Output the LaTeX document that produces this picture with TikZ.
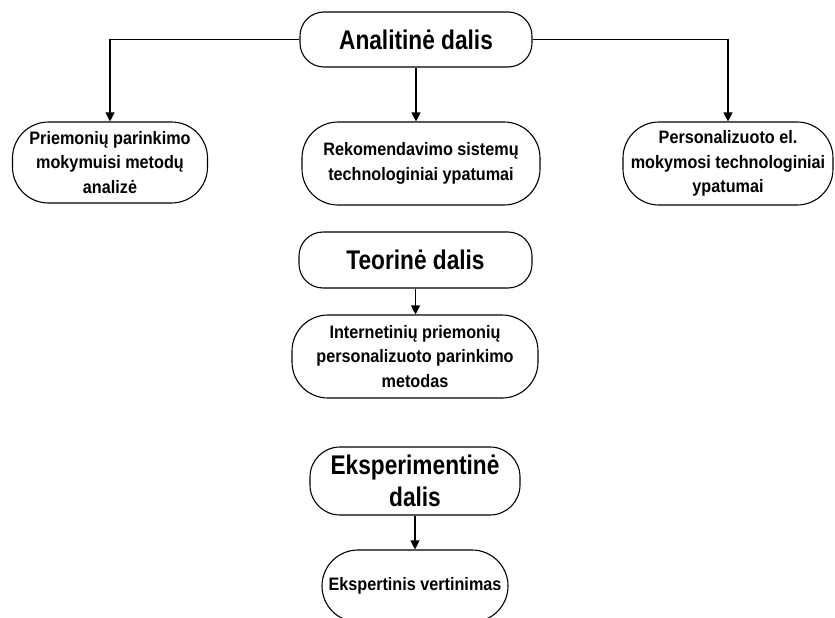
\documentclass[tikz,border=0pt]{standalone}
\usepackage{fontspec}
\setmainfont{Liberation Sans}
\newfontfamily\partfont[FakeStretch=0.84]{Liberation Sans}
\newfontfamily\topicfont[FakeStretch=0.9]{Liberation Sans}
\usetikzlibrary{arrows.meta,positioning}

\begin{document}
\begin{tikzpicture}[x=1pt,y=-1pt,line width=1.1pt,
  part/.style={draw,rounded corners=24pt,align=center,inner sep=0pt,
    font=\partfont\fontsize{27}{32}\selectfont\bfseries},
  topic/.style={draw,rounded corners=36pt,align=center,inner sep=0pt,
    font=\topicfont\fontsize{18}{24.5}\selectfont\bfseries},
  arr/.style={-{Triangle[width=9pt,length=9pt]}}]
 \clip (0,0) rectangle (835,618);
 \node[part,minimum width=232pt,minimum height=55pt] (ana) at (416,39.5) {Analitinė dalis};
 \node[topic,minimum width=195pt,minimum height=81pt] (pri) at (110,162.5)
   {Priemonių parinkimo\\mokymuisi metodų\\analizė};
 \node[topic,minimum width=238pt,minimum height=83pt] (rek) at (421,163.5)
   {Rekomendavimo sistemų\\technologiniai ypatumai};
 \node[topic,minimum width=210pt,minimum height=83pt] (per) at (728,163.5)
   {Personalizuoto el.\\mokymosi technologiniai\\ypatumai};
 \draw[arr] (ana.west) -| (pri.north);
 \draw[arr] (ana.east) -| (per.north);
 \draw[arr] (ana.south) -- (ana.south |- rek.north);
 \node[part,minimum width=233pt,minimum height=56pt] (teo) at (415.5,260) {Teorinė dalis};
 \node[topic,minimum width=246pt,minimum height=83pt] (int) at (415,356.5)
   {Internetinių priemonių\\personalizuoto parinkimo\\metodas};
 \draw[arr] (teo.south) -- (teo.south |- int.north);
 \node[part,minimum width=210pt,minimum height=68pt,rounded corners=30pt] (eks) at (415,481)
   {Eksperimentinė\\dalis};
 \node[topic,minimum width=186pt,minimum height=72pt] (ver) at (415,586)
   {Ekspertinis vertinimas};
 \draw[arr] (eks.south) -- (ver.north);
\end{tikzpicture}
\end{document}
